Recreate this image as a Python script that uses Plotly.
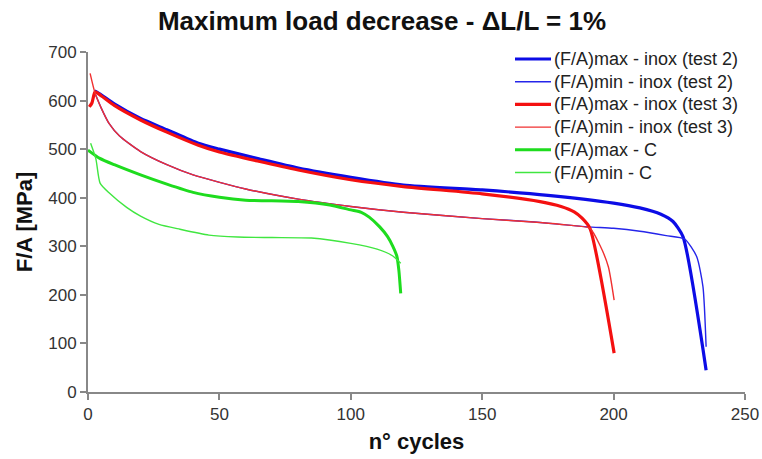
import plotly.graph_objects as go

# ---- data ----
blue_max_x = [2.5, 5, 10, 20, 30, 42, 50, 65, 80, 100, 120, 150, 175, 200, 210, 218, 222.6, 226.4, 235.2]
blue_max_y = [620, 612, 593, 563, 540, 512, 500, 480, 461, 442, 426, 416, 405, 389, 379, 366, 351, 320, 45]

blue_min_x = [2.5, 5, 8, 12, 20, 30, 40, 60, 80, 100, 120, 150, 170, 190, 200, 210, 220, 227, 231.6, 234, 235.2]
blue_min_y = [617, 585, 553, 527, 495, 468, 447, 418, 397, 382, 370, 357, 350, 340, 337, 331, 322, 315, 279, 217, 93]

red_max_x = [0.5, 1.5, 2.7, 5, 10, 20, 30, 42, 50, 80, 100, 120, 150, 172, 180, 185, 188, 191, 200.2]
red_max_y = [587, 595, 618, 610, 590, 560, 535, 508, 494, 457, 437, 423, 408, 392, 382, 371, 358, 337, 80]

red_min_x = [0.8, 2.7, 5, 8, 12, 20, 30, 40, 60, 80, 100, 120, 150, 172, 182, 191, 194.8, 198, 200.2]
red_min_y = [656, 615, 585, 553, 527, 495, 468, 447, 418, 397, 382, 370, 357, 349, 344, 337, 302, 258, 189]

c_max_x = [0, 4.5, 10, 20, 30, 40, 50, 60, 80, 92, 100, 104, 107, 111, 114, 116, 117.5, 118.3, 119]
c_max_y = [498, 481, 468, 447, 428, 411, 401, 395, 392, 385, 375, 370, 360, 340, 320, 300, 280, 250, 203]

c_min_x = [1, 3, 4.6, 8, 14.7, 20, 27, 35, 46, 57, 70, 85, 100, 110, 116, 119]
c_min_y = [512, 480, 430, 410, 380, 362, 345, 335, 323, 319, 318, 317, 306, 294, 280, 265]

names = ["(F/A)max - inox (test 2)", "(F/A)min - inox (test 2)",
         "(F/A)max - inox (test 3)", "(F/A)min - inox (test 3)",
         "(F/A)max - C", "(F/A)min - C"]
xs_all = [blue_max_x, blue_min_x, red_max_x, red_min_x, c_max_x, c_min_x]
ys_all = [blue_max_y, blue_min_y, red_max_y, red_min_y, c_max_y, c_min_y]
colors = ["#0c0ce6", "#2525ea", "#f41010", "#f03030", "#1edc1e", "#40e640"]
widths = [3.2, 1.4, 3.2, 1.4, 3.0, 1.4]

x_ticks = [0, 50, 100, 150, 200, 250]
y_ticks = [0, 100, 200, 300, 400, 500, 600, 700]

font = "Arial, Liberation Sans, sans-serif"
fig = go.Figure()
for name, xs, ys, col, w in zip(names, xs_all, ys_all, colors, widths):
    fig.add_trace(go.Scatter(x=xs, y=ys, mode="lines", name=name, showlegend=False,
                             line=dict(color=col, width=w, shape="spline", smoothing=0.6)))

# manual legend (compact rows, as in the reference)
L, T, W, H = 88, 52, 657, 340
shapes, annotations = [], []
for i, (name, col, w) in enumerate(zip(names, colors, widths)):
    ypx = 59 + i * 22.7
    yp = (T + H - ypx) / H
    shapes.append(dict(type="line", xref="paper", yref="paper",
                       x0=(515 - L) / W, x1=(551 - L) / W, y0=yp, y1=yp,
                       line=dict(color=col, width=w)))
    annotations.append(dict(text=name, xref="paper", yref="paper", x=(552 - L) / W, y=yp,
                            xanchor="left", yanchor="middle", showarrow=False,
                            font=dict(family=font, size=18, color="#222")))

fig.update_layout(
    width=762, height=459,
    margin=dict(l=L, r=762 - L - W, t=T, b=459 - T - H),
    paper_bgcolor="white", plot_bgcolor="white",
    title=dict(text="<b>Maximum load decrease - ΔL/L = 1%</b>", x=382 / 762, xanchor="center",
               xref="container", y=1 - 21 / 459, yanchor="middle",
               font=dict(family=font, size=26, color="#111")),
    font=dict(family=font),
    shapes=shapes, annotations=annotations,
)
fig.update_xaxes(range=[0, 250], tickvals=x_ticks, showgrid=False, zeroline=False,
                 showline=True, linecolor="#888", linewidth=2, ticks="outside",
                 ticklen=6, tickcolor="#888", tickwidth=1.5, tickfont=dict(size=17, color="#333"),
                 automargin=False,
                 title=dict(text="<b>n° cycles</b>", font=dict(size=22, color="#111"), standoff=10))
fig.update_yaxes(range=[0, 700], tickvals=y_ticks, showgrid=False, zeroline=False,
                 showline=True, linecolor="#888", linewidth=2, ticks="outside",
                 ticklen=6, tickcolor="#888", tickwidth=1.5, tickfont=dict(size=17, color="#333"),
                 automargin=False,
                 title=dict(text="<b>F/A [MPa]</b>", font=dict(size=22, color="#111"), standoff=10))

fig.write_html("out.html", config={"displayModeBar": False})
with open("out.html", encoding="utf-8") as f:
    html = f.read()
html = html.replace("<head>", "<head><style>html,body{margin:0;padding:0;overflow:hidden;}</style>", 1)
with open("out.html", "w", encoding="utf-8") as f:
    f.write(html)
